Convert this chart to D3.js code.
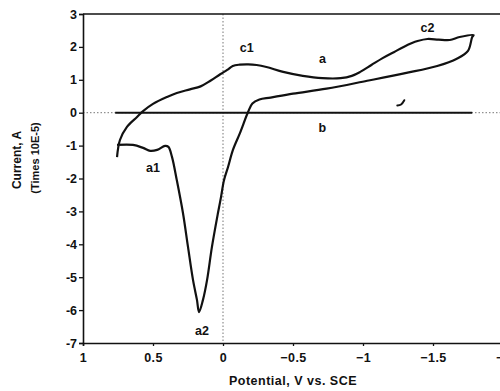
<!DOCTYPE html>
<html>
<head>
<meta charset="utf-8">
<script src="https://cdn.jsdelivr.net/npm/d3@7"></script>
<style>
  html, body { margin: 0; padding: 0; background: #fff; }
  svg { display: block; }
  text { font-family: "Liberation Sans", Arial, Helvetica, sans-serif; font-weight: bold; fill: #111; }
</style>
</head>
<body>
<svg id="chart" width="500" height="391"></svg>
<script>
// Cyclic voltammogram: potential (V vs. SCE) against current (x 10E-5 A)
const xTicks = [1, 0.5, 0, -0.5, -1, -1.5, -2];
const xTickLabels = ["1", "0.5", "0", "\u22120.5", "\u22121", "\u22121.5", "\u22122"];
const yTicks = [3, 2, 1, 0, -1, -2, -3, -4, -5, -6, -7];
const yTickLabels = ["3", "2", "1", "0", "-1", "-2", "-3", "-4", "-5", "-6", "-7"];

// Curve a: one open sweep, starting at the lower left end
const curveAPotential = [0.757, 0.736, 0.686, 0.614, 0.571, 0.50, 0.40, 0.33, 0.236, 0.16, 0.09, 0.02, -0.03, -0.07, -0.12, -0.18,
  -0.24, -0.31, -0.43, -0.57, -0.71, -0.84, -0.92, -0.98, -1.06, -1.14, -1.22, -1.29, -1.35, -1.39, -1.46, -1.54, -1.62, -1.69, -1.79,
  -1.78, -1.75, -1.67, -1.53, -1.31, -1.03, -0.74, -0.50, -0.34, -0.26, -0.21,
  -0.179, -0.121, -0.071, -0.036, -0.007, 0.014, 0.036, 0.079, 0.114, 0.143, 0.171,
  0.186, 0.214, 0.25, 0.286, 0.33, 0.364, 0.39, 0.414, 0.47, 0.52, 0.571, 0.643, 0.757];
const curveACurrent = [-1.35, -0.83, -0.43, -0.13, 0.05, 0.27, 0.48, 0.60, 0.71, 0.80, 0.97, 1.17, 1.30, 1.42, 1.46, 1.47,
  1.45, 1.39, 1.24, 1.12, 1.05, 1.05, 1.12, 1.24, 1.45, 1.66, 1.84, 2.00, 2.12, 2.18, 2.24, 2.22, 2.21, 2.30, 2.36,
  2.30, 1.88, 1.64, 1.42, 1.21, 0.97, 0.73, 0.58, 0.46, 0.40, 0.28,
  0.02, -0.62, -1.13, -1.65, -2.05, -2.56, -3.05, -4.08, -5.09, -5.69, -6.06,
  -5.69, -5.09, -4.08, -3.05, -2.05, -1.35, -1.04, -1.01, -1.13, -1.16, -1.07, -0.98, -0.98];

// Curve b: background scan, flat near zero
const curveBPotential = [0.77, 0.4, 0, -0.5, -1.0, -1.5, -1.78];
const curveBCurrent = [0.0, 0.0, 0.0, 0.0, 0.0, 0.0, 0.0];
// small stroke above curve b near -1.27 V
const hookPotential = [-1.245, -1.272, -1.295];
const hookCurrent = [0.22, 0.25, 0.38];

// Peak and curve labels
const labelText = ["c1", "a", "c2", "b", "a1", "a2"];
const labelPotential = [-0.17, -0.71, -1.46, -0.71, 0.5, 0.15];
const labelCurrent = [1.95, 1.6, 2.55, -0.5, -1.7, -6.65];

const svg = d3.select("#chart");
const x = d3.scaleLinear().domain([1, -2]).range([83, 503]);
const y = d3.scaleLinear().domain([-7, 3]).range([343, 14]);

// dotted reference lines at zero
svg.append("line")
  .attr("x1", x(0)).attr("x2", x(0)).attr("y1", y(3)).attr("y2", y(-7))
  .attr("stroke", "#777").attr("stroke-width", 1).attr("stroke-dasharray", "1.5,2");
svg.append("line")
  .attr("x1", x(1)).attr("x2", 500).attr("y1", y(0)).attr("y2", y(0))
  .attr("stroke", "#777").attr("stroke-width", 1).attr("stroke-dasharray", "1.5,2");

// frame: top border
svg.append("line")
  .attr("x1", x(1)).attr("x2", 500).attr("y1", y(3)).attr("y2", y(3))
  .attr("stroke", "#111").attr("stroke-width", 1.5);

// axes
const yAxis = d3.axisLeft(y).tickValues(yTicks).tickSize(4)
  .tickFormat((d, i) => yTickLabels[i]);
const gy = svg.append("g").attr("transform", `translate(${x(1)},0)`).call(yAxis);
gy.select(".domain").attr("stroke", "#111").attr("stroke-width", 1.6);
gy.selectAll(".tick line").attr("stroke", "#111").attr("stroke-width", 1.3);
gy.selectAll(".tick text").attr("font-size", 12.5).attr("x", -6)
  .style("font-family", "'Liberation Sans', Arial, sans-serif").style("font-weight", "bold");

const xAxis = d3.axisBottom(x).tickValues(xTicks).tickSize(3).tickPadding(7)
  .tickFormat((d, i) => xTickLabels[i]);
const gx = svg.append("g").attr("transform", `translate(0,${y(-7)})`).call(xAxis);
gx.select(".domain").attr("stroke", "#111").attr("stroke-width", 1.5);
gx.selectAll(".tick line").attr("stroke", "#111").attr("stroke-width", 1.3);
gx.selectAll(".tick text").attr("font-size", 12.5)
  .style("font-family", "'Liberation Sans', Arial, sans-serif").style("font-weight", "bold")
  .style("letter-spacing", "0.4px");

// curves
const line = d3.line().x(d => x(d[0])).y(d => y(d[1])).curve(d3.curveCatmullRom.alpha(0.5));
const lineStraight = d3.line().x(d => x(d[0])).y(d => y(d[1]));
svg.append("path")
  .datum(curveAPotential.map((v, i) => [v, curveACurrent[i]]))
  .attr("d", line).attr("fill", "none").attr("stroke", "#111").attr("stroke-width", 2.2)
  .attr("stroke-linejoin", "round");
svg.append("path")
  .datum(curveBPotential.map((v, i) => [v, curveBCurrent[i]]))
  .attr("d", lineStraight).attr("fill", "none").attr("stroke", "#111").attr("stroke-width", 2);
svg.append("path")
  .datum(hookPotential.map((v, i) => [v, hookCurrent[i]]))
  .attr("d", line).attr("fill", "none").attr("stroke", "#111").attr("stroke-width", 2)
  .attr("stroke-linecap", "round");

// labels
svg.selectAll(".peak").data(labelText).enter().append("text")
  .attr("class", "peak")
  .attr("x", (d, i) => x(labelPotential[i]))
  .attr("y", (d, i) => y(labelCurrent[i]))
  .attr("text-anchor", "middle").attr("dominant-baseline", "middle")
  .attr("font-size", 12.5)
  .text(d => d);

// axis titles
svg.append("text")
  .attr("x", 293).attr("y", 385)
  .attr("text-anchor", "middle").attr("font-size", 12.5)
  .style("letter-spacing", "0.5px")
  .text("Potential, V vs. SCE");
svg.append("text")
  .attr("transform", "translate(21,160) rotate(-90)")
  .attr("text-anchor", "middle").attr("font-size", 12)
  .text("Current, A");
svg.append("text")
  .attr("transform", "translate(39,158) rotate(-90)")
  .attr("text-anchor", "middle").attr("font-size", 11)
  .text("(Times 10E-5)");
</script>
</body>
</html>
